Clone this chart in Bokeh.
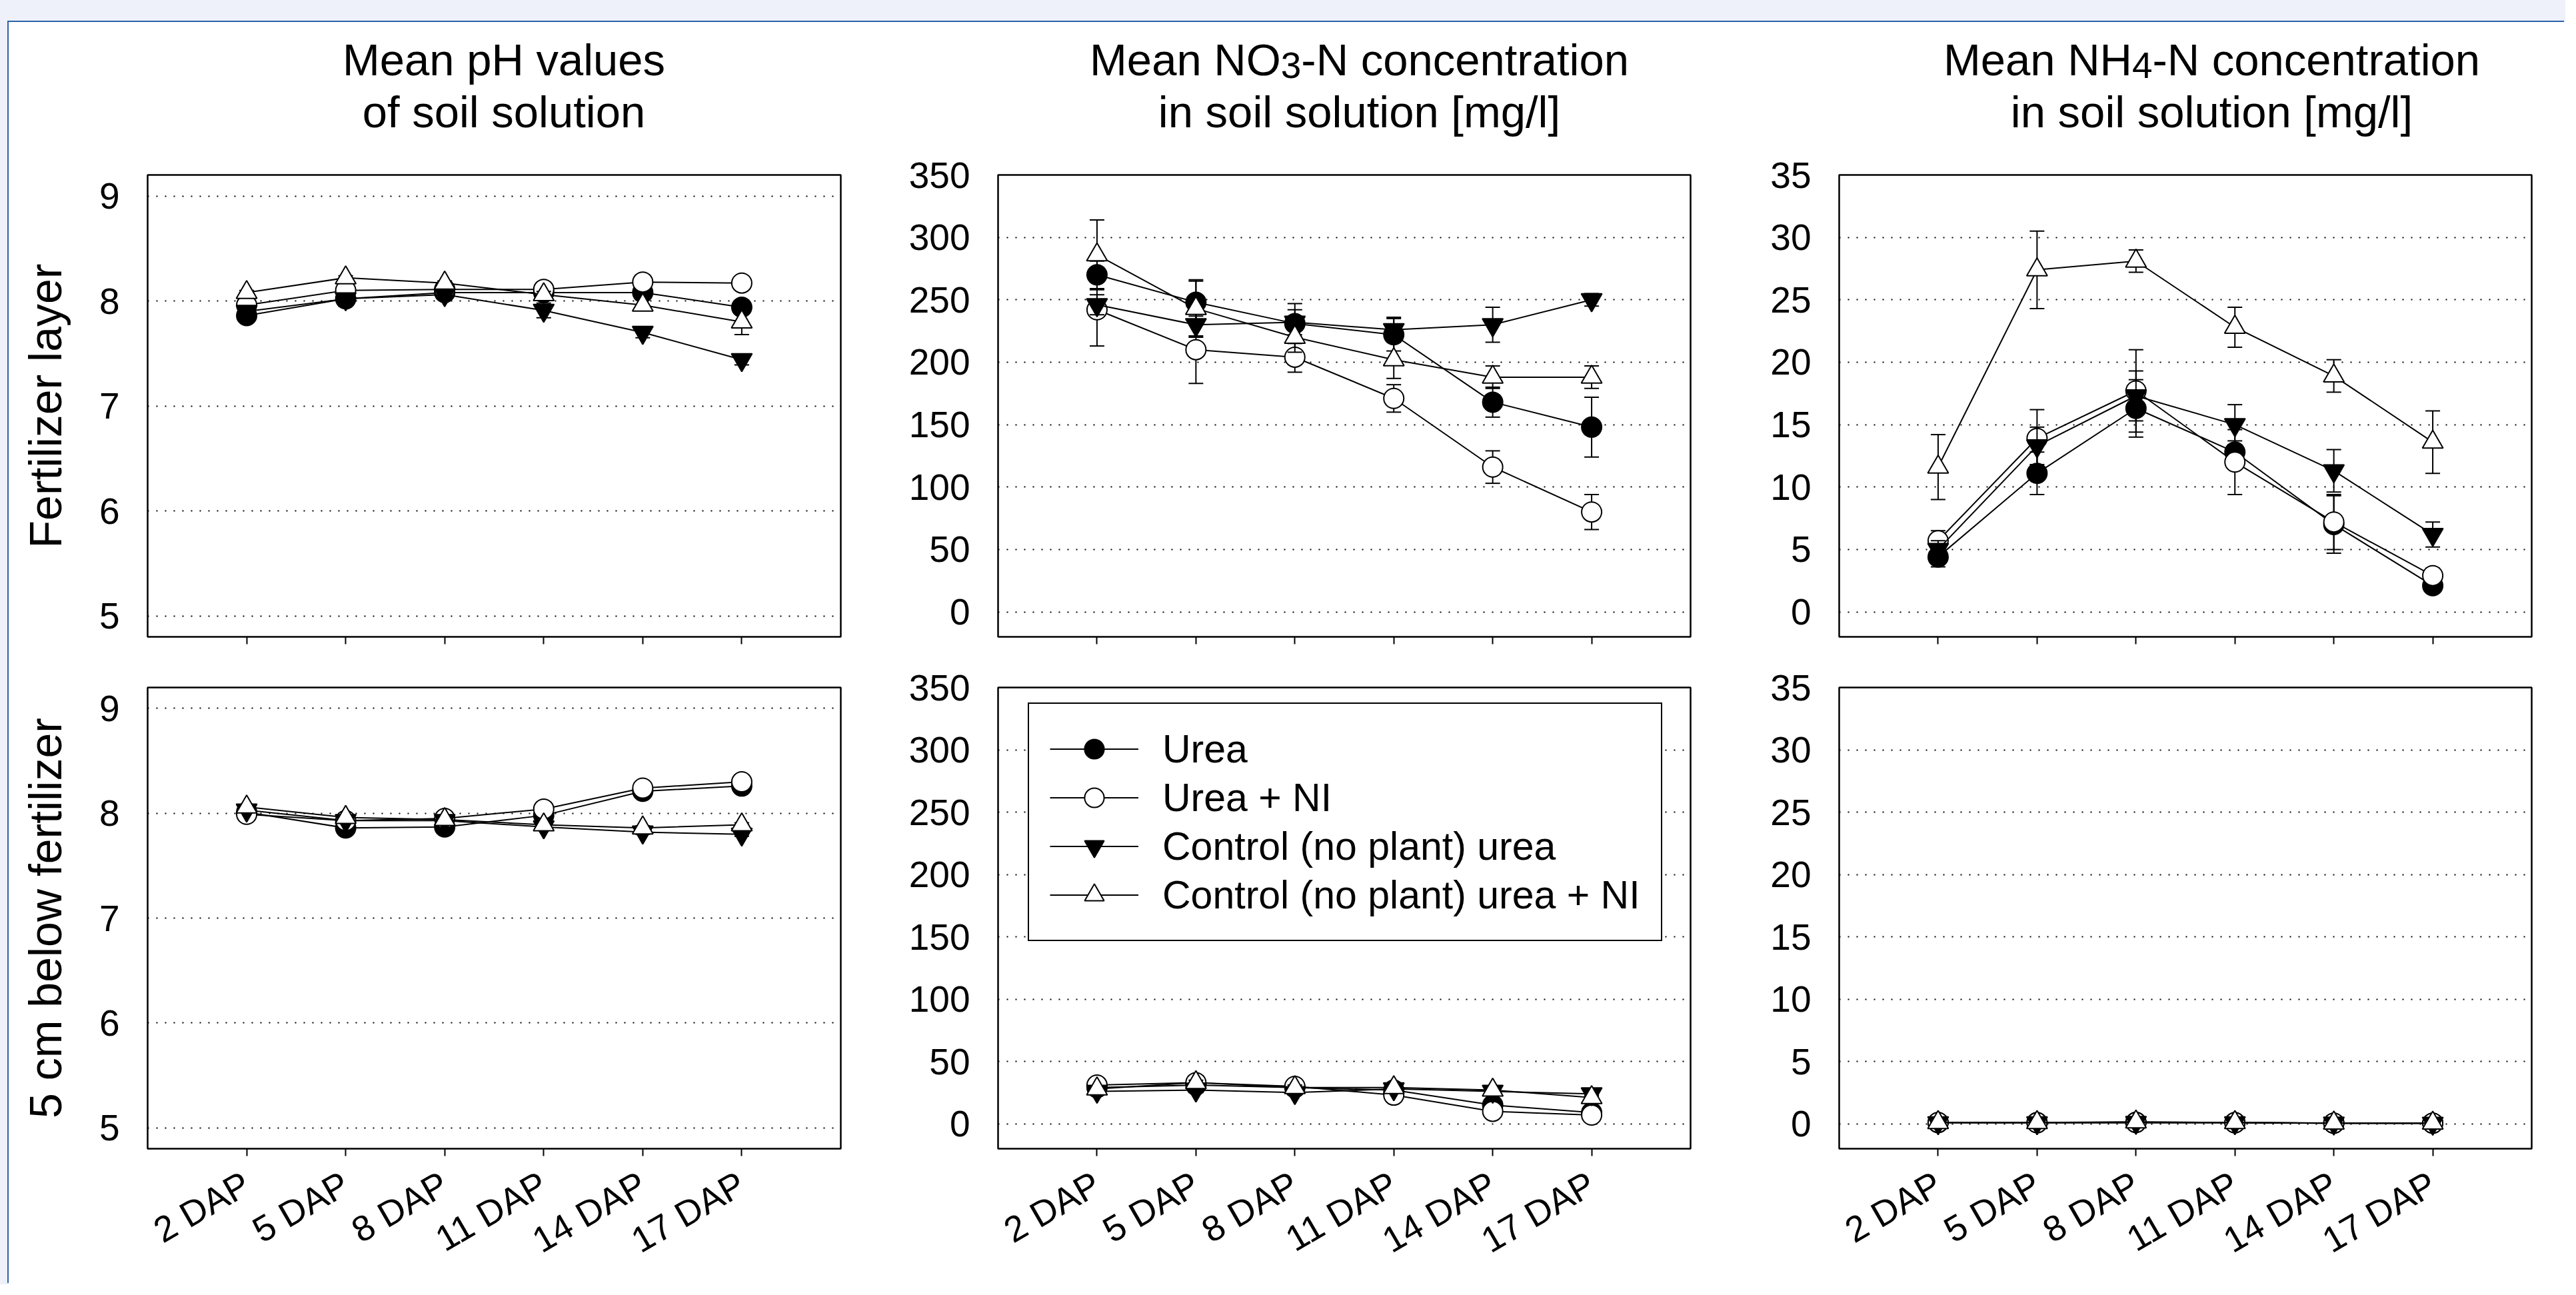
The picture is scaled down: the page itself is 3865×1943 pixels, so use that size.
import math
from bokeh.plotting import figure
from bokeh.models import (Range1d, FixedTicker, ColumnDataSource, Legend,
                          LegendItem, Div, Spacer)
from bokeh.layouts import row, column
from bokeh.embed import file_html
from bokeh.resources import INLINE

# ---------------- data ----------------
days = ["2 DAP", "5 DAP", "8 DAP", "11 DAP", "14 DAP", "17 DAP"]
series_names = ["Urea", "Urea + NI", "Control (no plant) urea",
                "Control (no plant) urea + NI"]

titles = ["Mean pH values<br>of soil solution",
          "Mean NO<sub>3</sub>-N concentration<br>in soil solution [mg/l]",
          "Mean NH<sub>4</sub>-N concentration<br>in soil solution [mg/l]"]
row_labels = ["Fertilizer layer", "5 cm below fertilizer"]

# pH - fertilizer layer
ph_fl_urea = [7.86, 8.02, 8.08, 8.08, 8.08, 7.94]
ph_fl_urea_ni = [7.96, 8.10, 8.11, 8.11, 8.18, 8.17]
ph_fl_ctrl = [7.90, 8.02, 8.06, 7.91, 7.70, 7.44]
ph_fl_ctrl_ni = [8.08, 8.22, 8.17, 8.06, 7.96, 7.80]
ph_fl_urea_err = [0.03, 0.03, 0.03, 0.03, 0.04, 0.05]
ph_fl_urea_ni_err = [0.02, 0.02, 0.02, 0.02, 0.02, 0.02]
ph_fl_ctrl_err = [0.03, 0.04, 0.04, 0.07, 0.05, 0.05]
ph_fl_ctrl_ni_err = [0.02, 0.02, 0.02, 0.03, 0.05, 0.12]

# NO3-N - fertilizer layer
no3_fl_urea = [270, 248, 231, 222, 168, 148]
no3_fl_urea_ni = [242, 210, 204, 171, 116, 80]
no3_fl_ctrl = [246, 230, 232, 226, 230, 250]
no3_fl_ctrl_ni = [286, 243, 220, 202, 188, 188]
no3_fl_urea_err = [11, 18, 16, 13, 12, 24]
no3_fl_urea_ni_err = [29, 27, 12, 11, 13, 14]
no3_fl_ctrl_err = [8, 10, 10, 10, 14, 5]
no3_fl_ctrl_ni_err = [28, 22, 12, 15, 9, 9]

# NH4-N - fertilizer layer
nh4_fl_urea = [4.4, 11.1, 16.3, 12.8, 7.0, 2.1]
nh4_fl_urea_ni = [5.7, 13.9, 17.7, 12.0, 7.2, 2.9]
nh4_fl_ctrl = [5.0, 13.3, 17.3, 15.0, 11.3, 6.2]
nh4_fl_ctrl_ni = [11.6, 27.4, 28.1, 22.8, 18.9, 13.6]
nh4_fl_urea_err = [0.8, 1.7, 2.3, 0.9, 2.3, 0.5]
nh4_fl_urea_ni_err = [0.8, 2.3, 3.3, 2.6, 2.2, 0.6]
nh4_fl_ctrl_err = [0.7, 1.5, 2.0, 1.6, 1.7, 1.0]
nh4_fl_ctrl_ni_err = [2.6, 3.1, 0.9, 1.6, 1.3, 2.5]

# pH - 5 cm below fertilizer
ph_bl_urea = [8.01, 7.86, 7.87, 7.98, 8.21, 8.26]
ph_bl_urea_ni = [7.99, 7.93, 7.95, 8.04, 8.24, 8.30]
ph_bl_ctrl = [8.03, 7.93, 7.93, 7.87, 7.82, 7.80]
ph_bl_ctrl_ni = [8.06, 7.96, 7.94, 7.89, 7.86, 7.89]
ph_bl_err = [0.02, 0.02, 0.02, 0.02, 0.02, 0.02]

# NO3-N - 5 cm below fertilizer
no3_bl_urea = [29, 31, 29, 27, 15, 9]
no3_bl_urea_ni = [31, 33, 30, 23, 10, 7]
no3_bl_ctrl = [26, 27, 25, 28, 26, 24]
no3_bl_ctrl_ni = [28, 33, 29, 29, 27, 21]
no3_bl_err = [2, 2, 2, 2, 2, 2]

# NH4-N - 5 cm below fertilizer
nh4_bl_urea = [0.10, 0.10, 0.12, 0.10, 0.05, 0.05]
nh4_bl_urea_ni = [0.10, 0.08, 0.10, 0.08, 0.05, 0.05]
nh4_bl_ctrl = [0.08, 0.08, 0.10, 0.08, 0.05, 0.04]
nh4_bl_ctrl_ni = [0.10, 0.10, 0.15, 0.10, 0.06, 0.05]
nh4_bl_err = [0.05, 0.05, 0.05, 0.05, 0.05, 0.05]

ph_ticks = [5, 6, 7, 8, 9]
no3_ticks = [0, 50, 100, 150, 200, 250, 300, 350]
nh4_ticks = [0, 5, 10, 15, 20, 25, 30, 35]

# ---------------- styling ----------------
FONT = "Liberation Sans"
markers = ["circle", "circle", "inverted_triangle", "triangle"]
fills = ["black", "white", "black", "white"]
msizes = [30, 30, 31, 31]

x_pos = list(range(1, len(days) + 1))
tick_labels = {x: d for x, d in zip(x_pos, days)}

TITLE_H = 172
col_w = [1258, 1275, 1303]
col_bl = [208, 226, 213]
col_br = [10, 10, 51]
row_h = [778, 944]
row_bt = [47, 38]
row_bb = [38, 214]


def make_panel(ci, ri, yr, yticks):
    p = figure(width=col_w[ci], height=row_h[ri],
               min_border_left=col_bl[ci], min_border_right=col_br[ci],
               min_border_top=row_bt[ri], min_border_bottom=row_bb[ri],
               x_range=Range1d(0, len(days) + 1), y_range=Range1d(*yr),
               output_backend="svg", toolbar_location=None, tools="")
    p.background_fill_color = "white"
    p.border_fill_color = "white"
    p.outline_line_color = "black"
    p.outline_line_width = 2.5
    p.outline_line_alpha = 1
    p.xgrid.visible = False
    p.ygrid.grid_line_color = "black"
    p.ygrid.grid_line_dash = "2 11"
    p.ygrid.grid_line_width = 2

    p.xaxis.ticker = FixedTicker(ticks=x_pos)
    p.xaxis.major_label_overrides = tick_labels
    p.xaxis.axis_line_color = None
    p.xaxis.major_tick_out = 11
    p.xaxis.major_tick_in = 0
    p.xaxis.major_tick_line_width = 2
    p.xaxis.minor_tick_line_color = None
    p.xaxis.major_label_text_font = FONT
    if ri == 0:
        p.xaxis.major_label_text_font_size = "10px"
        p.xaxis.major_label_text_color = None
    else:
        p.xaxis.major_label_text_color = "black"
        p.xaxis.major_label_text_font_size = "54px"
        p.xaxis.major_label_orientation = math.radians(30)
        p.xaxis.major_label_standoff = 37

    p.yaxis.ticker = FixedTicker(ticks=yticks)
    p.yaxis.axis_line_color = None
    p.yaxis.major_tick_line_color = None
    p.yaxis.major_tick_out = 0
    p.yaxis.major_tick_in = 0
    p.yaxis.minor_tick_line_color = None
    p.yaxis.major_label_text_font = FONT
    p.yaxis.major_label_text_font_size = "55px"
    p.yaxis.major_label_text_color = "black"
    p.yaxis.major_label_standoff = 42
    if ci == 0:
        p.yaxis.axis_label = row_labels[ri]
        p.yaxis.axis_label_text_font = FONT
        p.yaxis.axis_label_text_font_size = "68px"
        p.yaxis.axis_label_text_font_style = "normal"
        p.yaxis.axis_label_text_color = "black"
        p.yaxis.axis_label_standoff = 40
    return p


def draw_series(p, y, err, k):
    src = ColumnDataSource(dict(
        x=x_pos, y=y,
        lo=[a - e for a, e in zip(y, err)],
        hi=[a + e for a, e in zip(y, err)]))
    p.segment(x0="x", y0="lo", x1="x", y1="hi", source=src,
              line_color="black", line_width=2)
    p.scatter(x="x", y="hi", marker="dash", size=22, source=src,
              line_color="black", line_width=2)
    p.scatter(x="x", y="lo", marker="dash", size=22, source=src,
              line_color="black", line_width=2)
    ln = p.line(x="x", y="y", source=src, line_color="black", line_width=2)
    sc = p.scatter(x="x", y="y", marker=markers[k], size=msizes[k],
                   fill_color=fills[k], line_color="black", line_width=2,
                   source=src)
    return ln, sc


panels_data = [
    [  # row 0: fertilizer layer
        ((4.8, 9.2), ph_ticks,
         [ph_fl_urea, ph_fl_urea_ni, ph_fl_ctrl, ph_fl_ctrl_ni],
         [ph_fl_urea_err, ph_fl_urea_ni_err, ph_fl_ctrl_err, ph_fl_ctrl_ni_err]),
        ((-20, 350), no3_ticks,
         [no3_fl_urea, no3_fl_urea_ni, no3_fl_ctrl, no3_fl_ctrl_ni],
         [no3_fl_urea_err, no3_fl_urea_ni_err, no3_fl_ctrl_err, no3_fl_ctrl_ni_err]),
        ((-2, 35), nh4_ticks,
         [nh4_fl_urea, nh4_fl_urea_ni, nh4_fl_ctrl, nh4_fl_ctrl_ni],
         [nh4_fl_urea_err, nh4_fl_urea_ni_err, nh4_fl_ctrl_err, nh4_fl_ctrl_ni_err]),
    ],
    [  # row 1: 5 cm below fertilizer
        ((4.8, 9.2), ph_ticks,
         [ph_bl_urea, ph_bl_urea_ni, ph_bl_ctrl, ph_bl_ctrl_ni],
         [ph_bl_err] * 4),
        ((-20, 350), no3_ticks,
         [no3_bl_urea, no3_bl_urea_ni, no3_bl_ctrl, no3_bl_ctrl_ni],
         [no3_bl_err] * 4),
        ((-2, 35), nh4_ticks,
         [nh4_bl_urea, nh4_bl_urea_ni, nh4_bl_ctrl, nh4_bl_ctrl_ni],
         [nh4_bl_err] * 4),
    ],
]

rows = []
for ri, rdata in enumerate(panels_data):
    figs = []
    for ci, (yr, yt, ys, es) in enumerate(rdata):
        p = make_panel(ci, ri, yr, yt)
        items = []
        for k in range(4):
            ln, sc = draw_series(p, ys[k], es[k], k)
            items.append(LegendItem(label=series_names[k], renderers=[ln, sc]))
        if ri == 1 and ci == 1:
            leg = Legend(items=items, location=(45, 311))
            leg.border_line_color = "black"
            leg.border_line_width = 2
            leg.border_line_alpha = 1
            leg.background_fill_color = "white"
            leg.background_fill_alpha = 1
            leg.padding = 31
            leg.spacing = 0
            leg.margin = 0
            leg.glyph_width = 133
            leg.glyph_height = 73
            leg.label_height = 73
            leg.label_standoff = 36
            leg.label_text_font = FONT
            leg.label_text_font_size = "59px"
            leg.label_text_baseline = "middle"
            leg.label_text_color = "black"
            p.add_layout(leg)
        figs.append(p)
    rows.append(row(*figs))

# titles
frame_w = [col_w[i] - col_bl[i] - col_br[i] for i in range(3)]
title_pad = [20, 16, 30]
sub_style = '<sub style="font-size:82%;vertical-align:-0.08em;line-height:0;">'
title_children = []
for i in range(3):
    title_children.append(Spacer(width=col_bl[i] + (col_br[i - 1] if i > 0 else 0), height=TITLE_H))
    html = ('<div style="width:%dpx;text-align:center;font-family:\'Liberation Sans\',Arial,sans-serif;'
            'font-size:67px;line-height:78px;color:black;padding-top:13px;padding-left:%dpx;'
            'box-sizing:border-box;white-space:nowrap;">%s</div>' % (
                frame_w[i], title_pad[i], titles[i].replace("<sub>", sub_style)))
    title_children.append(Div(text=html, width=frame_w[i], height=TITLE_H))
title_children.append(Spacer(width=col_br[2], height=TITLE_H))
title_row = row(*title_children)

card = column(title_row, rows[0], rows[1], width=3836, height=1894,
              styles={"background-color": "white",
                      "box-shadow": "-2px -2px 0 0 #2b63a9"})
page = column(Spacer(width=3849, height=33),
              row(Spacer(width=13, height=1894), card),
              width=3849, height=1927,
              styles={"background-color": "#eef0fa"})

open("out.html", "w").write(file_html(page, INLINE))
